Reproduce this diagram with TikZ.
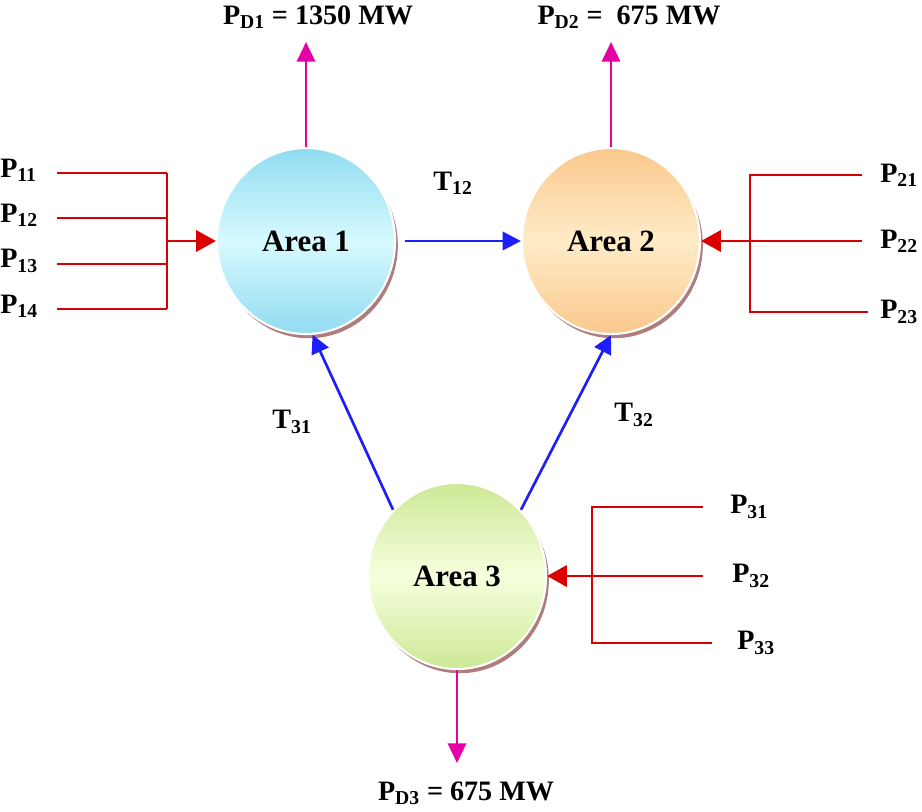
\documentclass[tikz,border=0pt]{standalone}
\usepackage{fontspec}
\setmainfont{Liberation Serif}
\usetikzlibrary{arrows.meta,shapes.geometric,shadows}
\definecolor{feedred}{RGB}{218,0,0}
\definecolor{loadpink}{RGB}{228,0,165}
\definecolor{tieblue}{RGB}{30,30,250}
\definecolor{rimbrown}{RGB}{175,125,125}
\definecolor{cyantop}{RGB}{145,220,240}
\definecolor{cyanmid}{RGB}{215,250,255}
\definecolor{peachtop}{RGB}{250,200,140}
\definecolor{peachmid}{RGB}{255,236,200}
\definecolor{limetop}{RGB}{205,232,150}
\definecolor{limemid}{RGB}{246,255,222}
\begin{document}
\begin{tikzpicture}[x=0.025cm,y=-0.025cm,
  font=\fontsize{20}{23}\selectfont\bfseries,
  area/.style={ellipse,minimum width=4.45cm,minimum height=4.65cm,inner sep=0pt,
    draw=white,line width=1.5pt,font=\fontsize{22}{25}\selectfont\bfseries,
    drop shadow={shadow xshift=2pt,shadow yshift=-3pt,fill=rimbrown,opacity=1}},
  feed/.style={feedred,line width=1.9pt},
  feedin/.style={feed,-{Triangle[length=14pt,width=15pt]}},
  load/.style={loadpink,line width=1.9pt,-{Triangle[length=14pt,width=13pt]}},
  tie/.style={tieblue,line width=1.9pt,-{Triangle[length=13pt,width=13pt]}},
  lbl/.style={inner sep=0pt}]
\useasboundingbox (0,0) rectangle (922,811);

\node[area,top color=cyantop,bottom color=cyantop,middle color=cyanmid] (A1) at (306,241) {Area 1};
\node[area,top color=peachtop,bottom color=peachtop,middle color=peachmid] (A2) at (611,241) {Area 2};
\node[area,top color=limetop,bottom color=limetop,middle color=limemid] (A3) at (457,576) {Area 3};

\foreach \y/\n in {173/11,218/12,264/13,309/14}{
  \node[lbl,anchor=west] (P\n) at (0,\y-3) {P\textsubscript{\n}};
  \coordinate (s\n) at (57,\y);
  \coordinate (b\n) at (167,\y);
  \draw[feed] (s\n) -- (b\n);
}
\draw[feed] (b11) -- (b14);
\coordinate (j1) at (167,241);
\draw[feedin] (j1) -- (A1.west);

\foreach \y/\n/\e in {175/21/862,241/22/862,312/23/868}{
  \node[lbl,anchor=west] (P\n) at (880,\y) {P\textsubscript{\n}};
  \coordinate (s\n) at (\e,\y);
  \coordinate (b\n) at (750,\y);
}
\draw[feed] (s21) -- (b21) -- (b23) -- (s23);
\draw[feedin] (s22) -- (A2.east);

\foreach \y/\n/\e/\t in {507/31/703/730,576/32/703/732,643/33/712/737}{
  \node[lbl,anchor=west] (P\n) at (\t,\y) {P\textsubscript{\n}};
  \coordinate (s\n) at (\e,\y);
  \coordinate (b\n) at (592,\y);
}
\draw[feed] (s31) -- (b31) -- (b33) -- (s33);
\draw[feedin] (s32) -- (A3.east);

\coordinate (d1) at (306,42);
\coordinate (d2) at (611,42);
\coordinate (d3) at (457,763);
\draw[load] (A1.north) -- (d1);
\draw[load] (A2.north) -- (d2);
\draw[load] (A3.south) -- (d3);
\node[lbl] (PD1) at (318,17) {P\textsubscript{D1} = 1350 MW};
\node[lbl] (PD2) at (629,17) {P\textsubscript{D2} =\ \ 675 MW};
\node[lbl] (PD3) at (466,793) {P\textsubscript{D3} = 675 MW};

\draw[tie,shorten <=6pt] (A1.east) -- (A2.west);
\draw[tie] (A3.134) -- (A1.-86);
\draw[tie] (A3.46) -- (A2.south);
\node[lbl] (T12) at (453,183) {T\textsubscript{12}};
\node[lbl] (T31) at (292,422) {T\textsubscript{31}};
\node[lbl] (T32) at (634,415) {T\textsubscript{32}};
\end{tikzpicture}
\end{document}
